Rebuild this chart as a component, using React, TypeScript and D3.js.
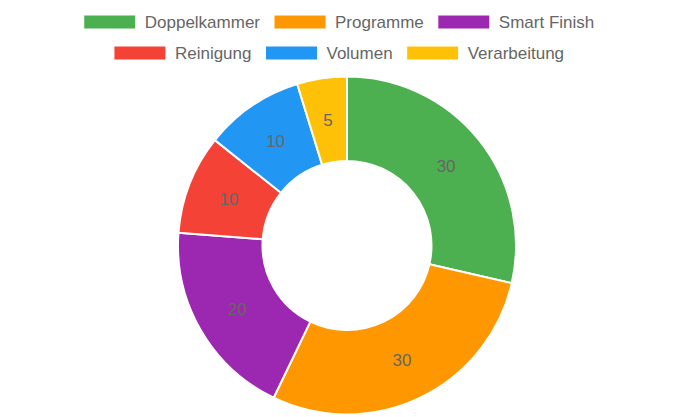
import React, { useEffect, useRef } from 'react';
import * as d3 from 'd3';

const labels = ['Doppelkammer', 'Programme', 'Smart Finish', 'Reinigung', 'Volumen', 'Verarbeitung'];
const values = [30, 30, 20, 10, 10, 5];
const colors = ['#4CAF50', '#FF9800', '#9C27B0', '#F44336', '#2196F3', '#FFC107'];
const legendRows = [[0, 1, 2], [3, 4, 5]];

const W = 695;
const H = 417;
const FONT = '"Liberation Sans", Arial, Helvetica, sans-serif';

export default function App() {
  const svgRef = useRef<SVGSVGElement>(null);

  useEffect(() => {
    if (!svgRef.current) return;
    const svg = d3.select(svgRef.current);
    svg.selectAll('*').remove();

    // Doughnut
    const cx = 347;
    const cy = 245.5;
    const outerR = 169;
    const innerR = outerR * 0.5;

    const pie = d3.pie<number>().sort(null).value(d => d);
    const arcs = pie(values);
    const arc = d3.arc<d3.PieArcDatum<number>>().innerRadius(innerR).outerRadius(outerR);
    const mid = d3.arc<d3.PieArcDatum<number>>()
      .innerRadius((innerR + outerR) / 2)
      .outerRadius((innerR + outerR) / 2);

    const g = svg.append('g').attr('transform', `translate(${cx},${cy})`);
    g.selectAll('path.slice')
      .data(arcs)
      .enter()
      .append('path')
      .attr('class', 'slice')
      .attr('d', arc)
      .attr('fill', (_d, i) => colors[i])
      .attr('stroke', '#fff')
      .attr('stroke-width', 2)
      .attr('stroke-linejoin', 'round');

    g.selectAll('text.val')
      .data(arcs)
      .enter()
      .append('text')
      .attr('class', 'val')
      .attr('transform', d => `translate(${mid.centroid(d)})`)
      .attr('text-anchor', 'middle')
      .attr('dy', '0.35em')
      .style('font-family', FONT)
      .style('font-size', '17px')
      .style('fill', '#666')
      .text(d => String(d.data));

    // Legend
    const boxW = 52;
    const boxH = 14;
    const textGap = 9;
    const itemGap = 14;
    const rowY = [22, 53];
    const legendCenter = 339;

    legendRows.forEach((row, r) => {
      const lg = svg.append('g');
      const widths: number[] = [];
      row.forEach(i => {
        const t = lg.append('text')
          .style('font-family', FONT)
          .style('font-size', '17px')
          .text(labels[i]);
        widths.push((t.node() as SVGTextElement).getComputedTextLength());
        t.remove();
      });
      const total = widths.reduce((a, w) => a + boxW + textGap + w, 0) + itemGap * (row.length - 1);
      let x = legendCenter - total / 2;
      row.forEach((i, k) => {
        lg.append('rect')
          .attr('x', x)
          .attr('y', rowY[r] - boxH / 2)
          .attr('width', boxW)
          .attr('height', boxH)
          .attr('fill', colors[i])
          .attr('stroke', '#fff')
          .attr('stroke-width', 1);
        lg.append('text')
          .attr('x', x + boxW + textGap)
          .attr('y', rowY[r])
          .attr('dy', '0.35em')
          .style('font-family', FONT)
          .style('font-size', '17px')
          .style('fill', '#666')
          .text(labels[i]);
        x += boxW + textGap + widths[k] + itemGap;
      });
    });
  }, []);

  return (
    <svg
      ref={svgRef}
      width={W}
      height={H}
      style={{ position: 'absolute', left: 0, top: 0, background: '#fff', display: 'block' }}
    />
  );
}
